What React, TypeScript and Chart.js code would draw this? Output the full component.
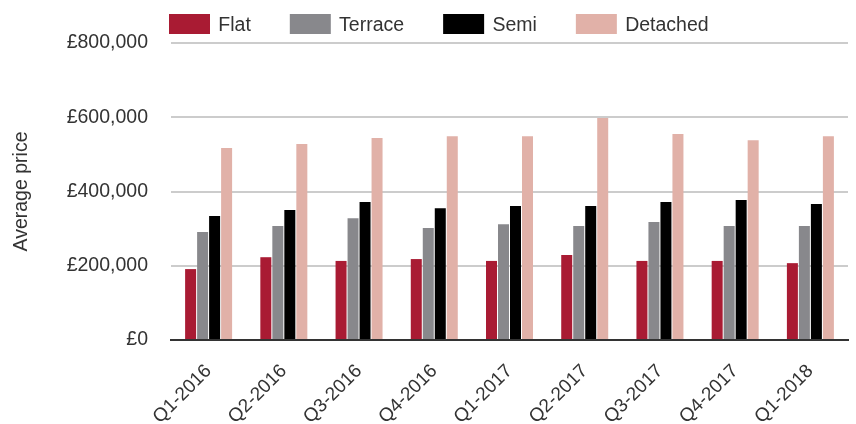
import React, { useEffect, useRef } from "react";
import { Chart, registerables } from "chart.js";

Chart.register(...registerables);

const categories = ["Q1-2016", "Q2-2016", "Q3-2016", "Q4-2016", "Q1-2017", "Q2-2017", "Q3-2017", "Q4-2017", "Q1-2018"];
const flat = [191000, 223000, 213000, 218000, 213000, 229000, 213000, 213000, 207000];
const terrace = [291000, 307000, 328000, 302000, 312000, 307000, 318000, 307000, 307000];
const semi = [334000, 350000, 372000, 355000, 361000, 361000, 372000, 377000, 366000];
const detached = [517000, 528000, 544000, 549000, 549000, 598000, 555000, 538000, 549000];
const yTicks = [0, 200000, 400000, 600000, 800000];

const FONT = '"Liberation Sans", Arial, Helvetica, sans-serif';
const TEXT = "#333333";

const legendPlugin = {
  id: "customLegend",
  afterDraw(chart: any) {
    const ctx = chart.ctx;
    ctx.save();
    ctx.font = `19.5px ${FONT}`;
    ctx.textBaseline = "alphabetic";
    let x = 169;
    chart.data.datasets.forEach((ds: any) => {
      ctx.fillStyle = ds.backgroundColor;
      ctx.fillRect(x, 14, 41, 20);
      ctx.fillStyle = TEXT;
      ctx.fillText(ds.label, x + 49.3, 31);
      x += 49.3 + ctx.measureText(ds.label).width + 39;
    });
    ctx.restore();
  },
};

export default function App() {
  const ref = useRef<HTMLCanvasElement | null>(null);
  useEffect(() => {
    if (!ref.current) return;
    const chart = new Chart(ref.current, {
      type: "bar",
      data: {
        labels: categories,
        datasets: [
          { label: "Flat", data: flat, backgroundColor: "#a91b33" },
          { label: "Terrace", data: terrace, backgroundColor: "#88888c" },
          { label: "Semi", data: semi, backgroundColor: "#000000" },
          { label: "Detached", data: detached, backgroundColor: "#e1b1a8" },
        ],
      },
      options: {
        animation: false,
        responsive: true,
        maintainAspectRatio: false,
        datasets: { bar: { categoryPercentage: 0.638, barPercentage: 0.917 } },
        layout: { padding: { top: 43, left: 0, right: 8, bottom: 0 } },
        plugins: { legend: { display: false }, tooltip: { enabled: false } },
        scales: {
          x: {
            grid: { display: false, drawTicks: false },
            border: { display: true, color: "#333333", width: 2 },
            ticks: {
              autoSkip: false,
              maxRotation: 45,
              minRotation: 45,
              padding: 20,
              color: TEXT,
              font: { family: FONT, size: 19 },
            },
            afterFit: (s: any) => { s.height = 84; },
          },
          y: {
            min: 0,
            max: 800000,
            afterBuildTicks: (s: any) => { s.ticks = yTicks.map((v) => ({ value: v })); },
            grid: {
              drawTicks: false,
              lineWidth: 2,
              color: (c: any) => (c.tick && c.tick.value === 0 ? "#333333" : "#cccccc"),
            },
            border: { display: false },
            ticks: {
              padding: 23,
              color: TEXT,
              font: { family: FONT, size: 19.5 },
              callback: (v: any) => "£" + Number(v).toLocaleString("en-GB"),
            },
            title: {
              display: true,
              text: "Average price",
              color: TEXT,
              font: { family: FONT, size: 19.5 },
              padding: { top: 10, bottom: 0 },
            },
            afterFit: (s: any) => { s.width = 171; },
          },
        },
      },
      plugins: [legendPlugin],
    });
    return () => chart.destroy();
  }, []);
  return (
    <div style={{ position: "fixed", left: 0, top: 0, width: 856, height: 424, background: "#fff" }}>
      <canvas ref={ref} />
    </div>
  );
}
